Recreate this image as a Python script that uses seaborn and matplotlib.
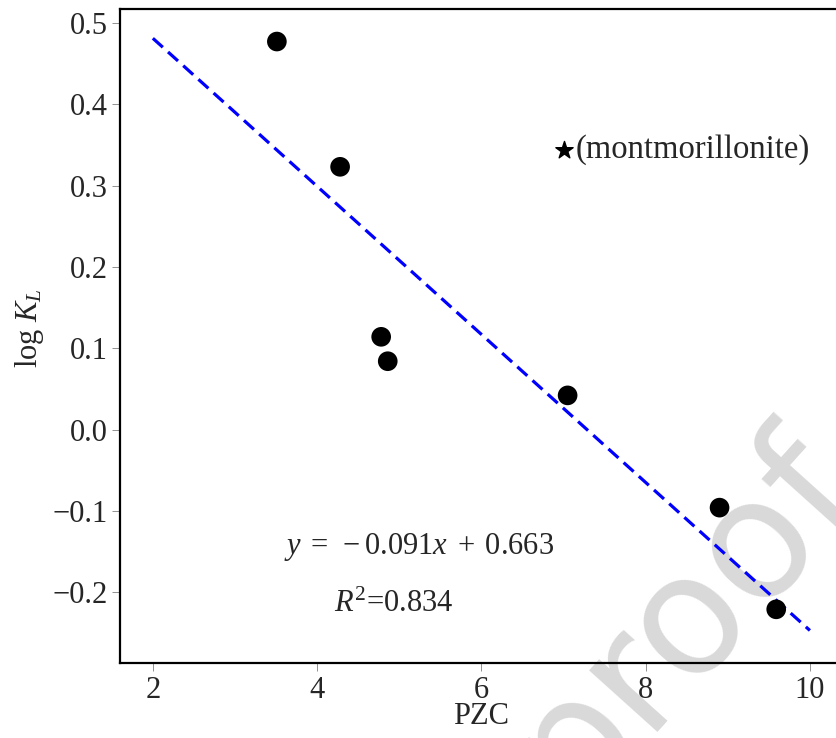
import numpy as np
import pandas as pd
import matplotlib
matplotlib.use("Agg")
import matplotlib.pyplot as plt
import seaborn as sns

# Data
pzc = [3.51, 4.28, 4.78, 4.86, 7.05, 8.90, 9.59]
log_kl = [0.477, 0.323, 0.114, 0.084, 0.042, -0.096, -0.221]
fit_x = [2.0, 10.0]
slope = -0.091
intercept = 0.663
fit_y = [slope * v + intercept for v in fit_x]
star_x = [7.0]
star_y = [0.344]
xticks = [2, 4, 6, 8, 10]
yticks = [-0.2, -0.1, 0.0, 0.1, 0.2, 0.3, 0.4, 0.5]

sns.set_theme(style="ticks")
plt.rcParams['font.family'] = ['Liberation Serif', 'DejaVu Serif']
plt.rcParams['mathtext.fontset'] = 'custom'
plt.rcParams['mathtext.rm'] = 'Liberation Serif'
plt.rcParams['mathtext.it'] = 'Liberation Serif:italic'

FS = 22
fig = plt.figure(figsize=(8.37, 7.38), dpi=100)
W, H = 837, 738
ax = fig.add_axes([120 / W, (H - 663) / H, (W - 120) / W, (663 - 9) / H])
ax.set_zorder(2)

# watermark (behind the axes)
fig.text(0.816, 0.163, "proof", rotation=48, fontsize=120, color="#d9d9d9",
         family="DejaVu Sans", ha="center", va="center", zorder=0)

df_pts = pd.DataFrame({"PZC": pzc, "logKL": log_kl})
df_fit = pd.DataFrame({"x": fit_x, "y": fit_y})

sns.lineplot(data=df_fit, x="x", y="y", ax=ax, color=(0, 0, 1), lw=2.3,
             dashes=False, zorder=2)
ax.lines[-1].set_dashes((4.2, 2.2))
sns.scatterplot(data=df_pts, x="PZC", y="logKL", ax=ax, color="black", s=200,
                edgecolor="none", zorder=3)
ax.scatter(star_x, star_y, marker="*", s=170, color="black", zorder=3)
ax.text(7.15, star_y[0], "(montmorillonite)", fontsize=23.5, va="center", ha="left")

ax.text(5.24, -0.145, r"$y\;=\;-0.091x\;+\;0.663$", fontsize=FS, ha="center", va="center")
ax.text(4.93, -0.215, r"$R^2$=0.834", fontsize=FS, ha="center", va="center")

ax.set_xlim(1.6, 10.33)
ax.set_ylim(-0.287, 0.517)
ax.set_xticks(xticks)
ax.set_yticks(yticks)
ax.set_xticklabels([str(v) for v in xticks])
ax.set_yticklabels([f"{v:.1f}".replace("-", "\u2212") for v in yticks])
ax.tick_params(axis="both", direction="out", length=6, width=0.6, color="gray",
               labelsize=FS, pad=3)
ax.set_xlabel("PZC", fontsize=FS)
ax.xaxis.set_label_coords((481 - 120) / (W - 120), -(717 - 663) / (663 - 9))
ax.xaxis.label.set_va("center")
ax.set_ylabel(r"log $K_L$", fontsize=FS)
ax.yaxis.set_label_coords(-(120 - 30) / (W - 120), (663 - 328) / (663 - 9))
ax.yaxis.label.set_va("center")
for s in ["left", "bottom", "top"]:
    ax.spines[s].set_linewidth(1.6)
    ax.spines[s].set_color("black")
ax.spines["right"].set_visible(False)
ax.set_facecolor("none")
fig.savefig("out.png", dpi=100)
